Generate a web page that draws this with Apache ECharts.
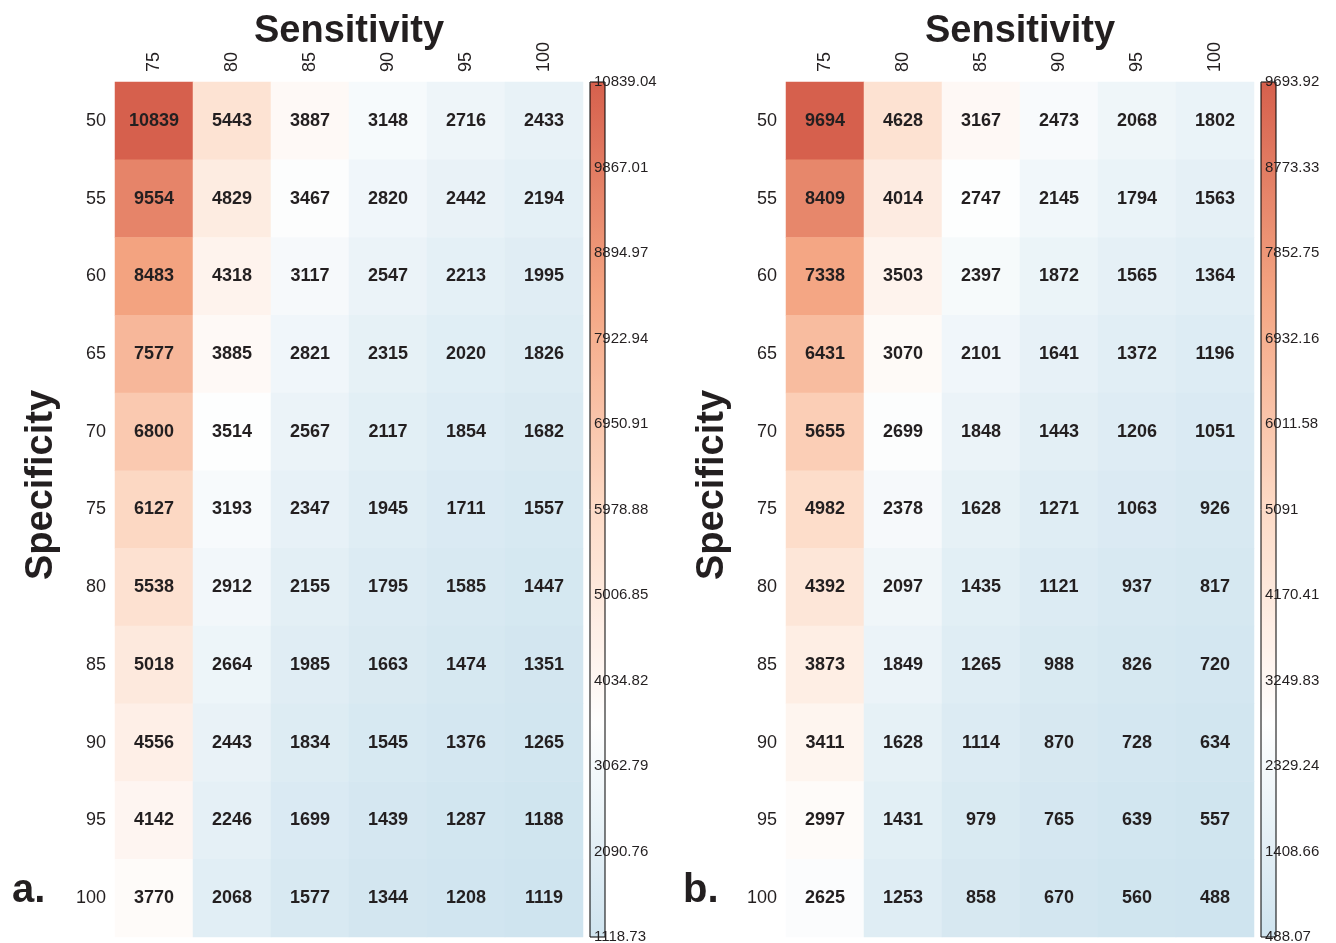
<!DOCTYPE html>
<html>
<head>
<meta charset="utf-8">
<script src="https://cdn.jsdelivr.net/npm/echarts@6/dist/echarts.min.js"></script>
<style>
html,body{margin:0;padding:0;background:#fff;}
#chart{width:1336px;height:943px;}
</style>
</head>
<body>
<div id="chart"></div>
<script>
const sensitivity = ['75', '80', '85', '90', '95', '100'];
const specificity = ['50', '55', '60', '65', '70', '75', '80', '85', '90', '95', '100'];

const valuesA = [
  [10839, 5443, 3887, 3148, 2716, 2433],
  [9554, 4829, 3467, 2820, 2442, 2194],
  [8483, 4318, 3117, 2547, 2213, 1995],
  [7577, 3885, 2821, 2315, 2020, 1826],
  [6800, 3514, 2567, 2117, 1854, 1682],
  [6127, 3193, 2347, 1945, 1711, 1557],
  [5538, 2912, 2155, 1795, 1585, 1447],
  [5018, 2664, 1985, 1663, 1474, 1351],
  [4556, 2443, 1834, 1545, 1376, 1265],
  [4142, 2246, 1699, 1439, 1287, 1188],
  [3770, 2068, 1577, 1344, 1208, 1119]
];
const valuesB = [
  [9694, 4628, 3167, 2473, 2068, 1802],
  [8409, 4014, 2747, 2145, 1794, 1563],
  [7338, 3503, 2397, 1872, 1565, 1364],
  [6431, 3070, 2101, 1641, 1372, 1196],
  [5655, 2699, 1848, 1443, 1206, 1051],
  [4982, 2378, 1628, 1271, 1063, 926],
  [4392, 2097, 1435, 1121, 937, 817],
  [3873, 1849, 1265, 988, 826, 720],
  [3411, 1628, 1114, 870, 728, 634],
  [2997, 1431, 979, 765, 639, 557],
  [2625, 1253, 858, 670, 560, 488]
];
// colorbar tick labels, bottom to top
const cbarTicksA = ['1118.73', '2090.76', '3062.79', '4034.82', '5006.85', '5978.88', '6950.91', '7922.94', '8894.97', '9867.01', '10839.04'];
const cbarTicksB = ['488.07', '1408.66', '2329.24', '3249.83', '4170.41', '5091', '6011.58', '6932.16', '7852.75', '8773.33', '9693.92'];

const palette = ['#cfe4ef', '#fefefe', '#fddbc7', '#f4a582', '#d6604d'];
const FONT = '"Liberation Sans", Arial, Helvetica, sans-serif';
const TXT = '#231f20';

function toCells(values) {
  const out = [];
  values.forEach((row, yi) => row.forEach((v, xi) => out.push([xi, yi, v])));
  return out;
}

const heatGrids = [115, 786];
const cbarLefts = [590, 1261];
const TOP = 82, H = 855, W = 468;

const grid = [];
const xAxis = [];
const yAxis = [];
heatGrids.forEach((left) => grid.push({ left: left, top: TOP, width: W, height: H, outerBoundsMode: 'none', containLabel: false }));
cbarLefts.forEach((left) => grid.push({ left: left, top: TOP, width: 15, height: H, show: true, borderColor: '#000', borderWidth: 1, backgroundColor: 'transparent', z: 10, outerBoundsMode: 'none', containLabel: false }));

[0, 1].forEach((g) => {
  xAxis.push({
    type: 'category', gridIndex: g, position: 'top', data: sensitivity,
    axisLine: { show: false }, axisTick: { show: false }, splitLine: { show: false },
    axisLabel: { rotate: -90, fontSize: 18, color: TXT, margin: 10, fontFamily: FONT, interval: 0 },
    name: 'Sensitivity', nameLocation: 'middle', nameGap: 31, nameMoveOverlap: false,
    nameTextStyle: { fontSize: 38, fontWeight: 'bold', color: TXT, fontFamily: FONT }
  });
  yAxis.push({
    type: 'category', gridIndex: g, inverse: true, data: specificity,
    axisLine: { show: false }, axisTick: { show: false }, splitLine: { show: false },
    axisLabel: { fontSize: 18, color: TXT, margin: 9, fontFamily: FONT, interval: 0 },
    name: 'Specificity', nameLocation: 'middle', nameRotate: 90, nameGap: 54, nameMoveOverlap: false,
    nameTextStyle: { fontSize: 38, fontWeight: 'bold', color: TXT, fontFamily: FONT, padding: [0, 0, 0, 49] }
  });
});
[cbarTicksA, cbarTicksB].forEach((ticks, i) => {
  xAxis.push({ type: 'value', gridIndex: 2 + i, show: false });
  yAxis.push({
    type: 'category', gridIndex: 2 + i, data: ticks, boundaryGap: false, position: 'left', z: 11,
    axisLine: { show: false }, axisTick: { show: false }, splitLine: { show: false },
    axisLabel: { inside: true, margin: 4, fontSize: 15, color: TXT, fontFamily: FONT, interval: 0 }
  });
});

const sets = [valuesA, valuesB];
const tickSets = [cbarTicksA, cbarTicksB];
const series = sets.map((vals, i) => ({
  type: 'heatmap', xAxisIndex: i, yAxisIndex: i, data: toCells(vals),
  label: { show: true, fontSize: 18, fontWeight: 'bold', color: TXT, fontFamily: FONT,
           formatter: (p) => String(p.value[2]) },
  emphasis: { disabled: true },
  itemStyle: { borderWidth: 0 }
}));
const visualMap = tickSets.map((ticks, i) => ({
  type: 'continuous', seriesIndex: i,
  min: parseFloat(ticks[0]), max: parseFloat(ticks[ticks.length - 1]),
  inRange: { color: palette },
  left: cbarLefts[i], top: TOP, itemWidth: 15, itemHeight: H, padding: 0,
  calculable: false, hoverLink: false, orient: 'vertical'
}));

const chart = echarts.init(document.getElementById('chart'), null, { renderer: 'canvas' });
chart.setOption({
  animation: false,
  backgroundColor: '#fff',
  textStyle: { fontFamily: FONT },
  title: [
    { text: 'a.', left: 7, top: 866, textStyle: { fontSize: 40, fontWeight: 'bold', color: TXT, fontFamily: FONT } },
    { text: 'b.', left: 678, top: 866, textStyle: { fontSize: 40, fontWeight: 'bold', color: TXT, fontFamily: FONT } }
  ],
  grid: grid, xAxis: xAxis, yAxis: yAxis, visualMap: visualMap, series: series
});
</script>
</body>
</html>
